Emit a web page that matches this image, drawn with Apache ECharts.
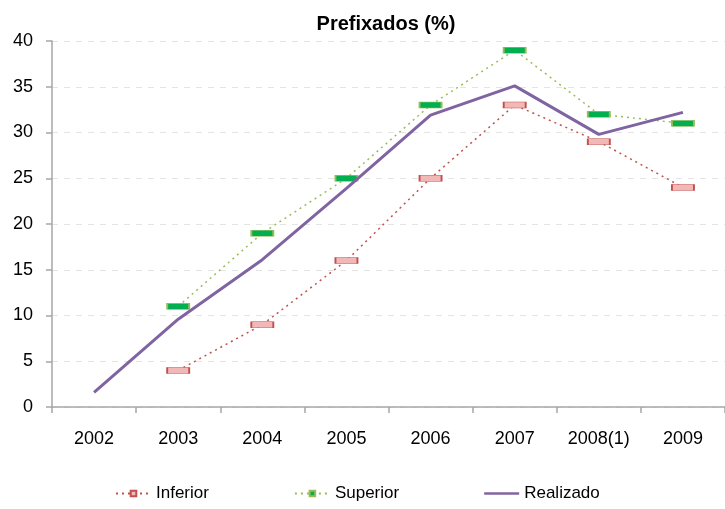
<!DOCTYPE html>
<html>
<head>
<meta charset="utf-8">
<script src="https://cdn.jsdelivr.net/npm/echarts@6/dist/echarts.min.js"></script>
<style>
html, body { margin: 0; padding: 0; background: #fff; }
#result { width: 725px; height: 509px; }
</style>
</head>
<body>
<div id="result"></div>
<script>
var anos = ['2002', '2003', '2004', '2005', '2006', '2007', '2008(1)', '2009'];
var inferior = [null, 4, 9, 16, 25, 33, 29, 24];
var superior = [null, 11, 19, 25, 33, 39, 32, 31];
var realizado = [1.6, 9.6, 16.1, 23.9, 31.9, 35.1, 29.8, 32.2];

var myChart = echarts.init(document.getElementById('result'));

var fonte = 'Liberation Sans';

var option = {
	animation: false,
	textStyle: {
		fontFamily: fonte
	},
	title: {
		text: 'Prefixados (%)',
		left: 381,
		textAlign: 'center',
		top: 9,
		textStyle: {
			fontSize: 20,
			fontWeight: 'bold',
			color: '#000',
			fontFamily: fonte
		}
	},
	grid: {
		left: 52,
		top: 41,
		width: 676,
		height: 366
	},
	legend: {
		bottom: 2,
		left: 110,
		itemGap: 85,
		itemWidth: 35,
		itemHeight: 7,
		textStyle: {
			fontSize: 17,
			color: '#000',
			fontFamily: fonte
		},
		data: [
			'Inferior',
			'Superior',
			{ name: 'Realizado', icon: 'path://M0,0L40,0L40,3L0,3Z', itemStyle: { color: '#8064a2' } }
		]
	},
	xAxis: {
		type: 'category',
		data: anos,
		boundaryGap: true,
		axisLine: { lineStyle: { color: '#a6a6a6', width: 1.5 } },
		axisTick: { show: true, interval: 0, length: 6, lineStyle: { color: '#a6a6a6', width: 1.5 } },
		axisLabel: { interval: 0, fontSize: 18, color: '#000', margin: 23 }
	},
	yAxis: {
		type: 'value',
		min: 0,
		max: 40,
		interval: 5,
		axisLine: { show: true, lineStyle: { color: '#a6a6a6', width: 1.5 } },
		axisTick: { show: true, length: 6, lineStyle: { color: '#a6a6a6', width: 1.5 } },
		axisLabel: { fontSize: 18, color: '#000', margin: 19 },
		splitLine: { lineStyle: { color: '#e4e4e4', type: [6, 6] } }
	},
	series: [{
			name: 'Inferior',
			type: 'line',
			data: inferior,
			symbol: 'rect',
			symbolSize: [22, 6],
			showAllSymbol: true,
			lineStyle: { color: '#c0504d', width: 1.5, type: [2, 4] },
			itemStyle: { color: '#f2b8b7', borderColor: '#c0504d', borderWidth: 1 },
			z: 3
		},
		{
			name: 'Superior',
			type: 'line',
			data: superior,
			symbol: 'rect',
			symbolSize: [22, 6],
			showAllSymbol: true,
			lineStyle: { color: '#9bbb59', width: 1.5, type: [2, 4] },
			itemStyle: { color: '#00b050', borderColor: '#9bbb59', borderWidth: 1 },
			z: 3
		},
		{
			name: 'Realizado',
			type: 'line',
			data: realizado,
			symbol: 'none',
			lineStyle: { color: '#8064a2', width: 3 },
			itemStyle: { color: '#8064a2' },
			z: 4
		}
	]
};

myChart.setOption(option);
</script>
</body>
</html>
